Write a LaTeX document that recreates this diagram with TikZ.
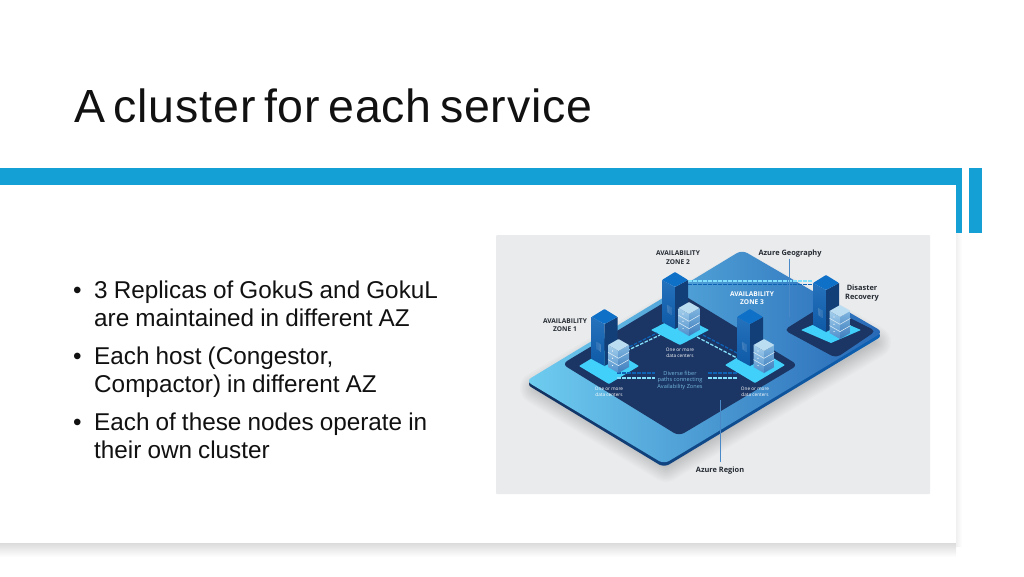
\documentclass[tikz,border=0pt]{standalone}
\usepackage{fontspec}
\setmainfont{Liberation Sans}
\newfontfamily\titlefont[WordSpace=0.6,LetterSpace=1.9]{Liberation Sans}
\newfontfamily\bodyfont[WordSpace=0.9]{Liberation Sans}
\newfontfamily\lblfont{Open Sans}
\definecolor{barblue}{HTML}{149FD5}
\definecolor{panelgrey}{HTML}{E9EBED}
\definecolor{navy}{HTML}{1B3564}
\definecolor{edgenavy}{HTML}{12305E}
\definecolor{padcyan}{HTML}{40D0FA}
\definecolor{towerL}{HTML}{0D62B5}
\definecolor{towerR}{HTML}{133F78}
\definecolor{towerT}{HTML}{0F70C8}
\definecolor{stackT}{HTML}{BBDDF2}
\definecolor{stackL}{HTML}{A4CFEC}
\definecolor{stackLb}{HTML}{4F8FCB}
\definecolor{stackR}{HTML}{7FB5E0}
\definecolor{stackRb}{HTML}{3D7CBC}
\definecolor{fibre}{HTML}{74B8DE}
\definecolor{inktext}{HTML}{262B33}
\definecolor{slidetext}{HTML}{111111}
\definecolor{slabA}{HTML}{6FCDF0}
\definecolor{slabB}{HTML}{408FD0}
\definecolor{slabC}{HTML}{2768B6}
\tikzset{
  bulletline/.style={anchor=base west,inner sep=0pt,font=\bodyfont\fontsize{24.3}{28}\selectfont,text=slidetext},
  darklabel/.style={inner sep=0pt,align=center,text=inktext,font=\lblfont\bfseries\fontsize{6.6}{8.6}\selectfont},
  whitelabel/.style={inner sep=0pt,align=center,text=white,font=\lblfont\bfseries\fontsize{6.6}{8.2}\selectfont},
  smalllabel/.style={inner sep=0pt,align=center,text=white,font=\lblfont\fontsize{4.7}{6.2}\selectfont},
  fibrelabel/.style={inner sep=0pt,align=center,text=fibre,font=\lblfont\fontsize{5.6}{6.8}\selectfont},
  leader/.style={draw=towerL!75!white,line width=0.5pt},
  fibredark/.style={draw=towerL,line width=1.3pt,dash pattern=on 3.5pt off 1.5pt},
  fibrelight/.style={draw=white!35!padcyan,line width=1.3pt,dash pattern=on 3.5pt off 1.5pt},
}
\newcommand{\mytower}[2]{%
  \begin{scope}[shift={(#1,#2)}]
    \shade[top color=towerL!90!white,bottom color=towerL!75!towerR,line join=round] (-13,8) -- (0,15) -- (0,57) -- (-13,50) -- cycle;
    \fill[towerR,line join=round] (13,8) -- (0,15) -- (0,57) -- (13,50) -- cycle;
    \fill[towerT,line join=round,rounded corners=0.8pt] (-13,8) -- (0,0) -- (13,8) -- (0,15) -- cycle;
    \foreach \v in {0,1.6,...,12.8}{\draw[white,opacity=.28,line width=.5pt,dash pattern=on .8pt off .7pt] (-8,{33+\v*.6}) -- (-3.5,{36+\v*.6});}
  \end{scope}}
\newcommand{\mystack}[2]{%
  \begin{scope}[shift={(#1,#2)}]
    \shade[top color=stackL,bottom color=stackLb] (-10.5,6) -- (0,12) -- (0,34) -- (-10.5,28) -- cycle;
    \shade[top color=stackR,bottom color=stackRb] (10.5,6) -- (0,12) -- (0,34) -- (10.5,28) -- cycle;
    \fill[stackT,rounded corners=0.5pt] (-10.5,6) -- (0,0) -- (10.5,6) -- (0,12) -- cycle;
    \foreach \d in {7.3,14.6}{\draw[white!70!stackL,line width=.5pt] (-10.5,6+\d) -- (0,12+\d) -- (10.5,6+\d);}
    \foreach \d in {0,7.3,14.6}{\fill[white] (-6,{12+\d}) circle (.6);}
  \end{scope}}
\newcommand{\mypad}[4]{\fill[padcyan,rounded corners=0.6pt] (#1,#4) -- (#2,#3) -- ({2*#2-#1},#4) -- (#2,{2*#4-#3}) -- cycle;}
\begin{document}
\begin{tikzpicture}[x=1pt,y=-1pt]
\useasboundingbox (0,0) rectangle (1024,576);
\fill[white] (0,0) rectangle (1024,576);
% slide panel shadow
\shade[top color=black!14,bottom color=white] (0,543) rectangle (956,557);
\shade[left color=black!6,right color=white] (956,233) rectangle (962,546);
\fill[barblue] (0,167.5) rectangle (962,184.7);
\fill[barblue] (956,184) rectangle (962,233);
\fill[barblue] (969,167.5) rectangle (982,233);
% title and bullets
\node[anchor=base west,inner sep=0pt,text=slidetext,font=\titlefont\fontsize{46.5}{50}\selectfont] (title) at (74,122.7) {A cluster for each service};
\foreach \n/\yy in {b1/298,b2/364,b3/430}{\node[bulletline] (\n) at (73,\yy) {•};}
\node[bulletline] (l1) at (94,298) {3 Replicas of GokuS and GokuL};
\node[bulletline] (l2) at (94,326) {are maintained in different AZ};
\node[bulletline] (l3) at (94,364) {Each host (Congestor,};
\node[bulletline] (l4) at (94,392) {Compactor) in different AZ};
\node[bulletline] (l5) at (94,430) {Each of these nodes operate in};
\node[bulletline] (l6) at (94,458) {their own cluster};
% picture panel
\fill[panelgrey,rounded corners=1pt] (496,235) rectangle (930,494);
\begin{scope}
  \clip (496,235) rectangle (930,494);
  \foreach \w in {2,5,...,32}{
    \draw[black,opacity=.017,line width=\w pt,line join=round]
      (536,388) -- (742,268) -- (875,342) -- (666,466) -- cycle;}
\end{scope}
% slab
\shade[left color=edgenavy,right color=towerL,rounded corners=6pt] (526,384) -- (742,254) -- (883,335.5) -- (664,467.5) -- cycle;
\shade[left color=slabA,middle color=slabB,right color=slabC,rounded corners=6pt]
  (526,381) -- (742,250) -- (883,332) -- (664,464) -- cycle;
% inner dark regions
\fill[navy,rounded corners=6pt] (562,364) -- (680,293) -- (798,365) -- (679,436) -- cycle;
\fill[navy,rounded corners=5pt] (784,330) -- (824,305) -- (876,331) -- (836,358) -- cycle;
% pads
\mypad{651}{680}{315}{330}
\mypad{579}{609}{348}{366}
\mypad{725}{755}{347}{365}
\mypad{801}{831}{317}{330}
% fibre links
\draw[fibrelight] (688,281) -- (813,281);
\draw[fibredark] (688,284.5) -- (813,284.5);
\draw[fibredark] (625,349) -- (657,333);
\draw[fibrelight] (622,353) -- (660,335);
\draw[fibrelight] (697,337) -- (737,358);
\draw[fibredark] (703,335) -- (737,353);
\draw[fibredark] (617,373) -- (655,373);
\draw[fibrelight] (617,378) -- (655,378);
\draw[fibredark] (708,373) -- (737,373);
\draw[fibrelight] (708,378) -- (737,378);
% towers and stacks
\mytower{675}{272}\mystack{689}{302}
\mytower{604.5}{309}\mystack{618.5}{339}
\mytower{750}{309}\mystack{764}{339}
\mytower{826}{275}\mystack{840}{305}
% labels
\node[darklabel] (z2) at (678,257.5) {AVAILABILITY\\ZONE 2};
\node[darklabel] (z1) at (565,325) {AVAILABILITY\\ZONE 1};
\node[whitelabel] (z3) at (752,298) {AVAILABILITY\\ZONE 3};
\node[darklabel,font=\lblfont\bfseries\fontsize{7.4}{9}\selectfont] (geo) at (790,254) {Azure Geography};
\node[darklabel,font=\lblfont\bfseries\fontsize{7.4}{9}\selectfont] (dr) at (862,293.5) {Disaster\\Recovery};
\node[darklabel,font=\lblfont\bfseries\fontsize{7.4}{9}\selectfont] (region) at (720,471) {Azure Region};
\node[smalllabel] (dc2) at (680,353) {One or more\\data centers};
\node[smalllabel] (dc1) at (609,391.5) {One or more\\data centers};
\node[smalllabel] (dc3) at (755,391.5) {One or more\\data centers};
\node[fibrelabel] (fib) at (680,380.5) {Diverse fiber\\paths connecting\\Availability Zones};
\coordinate (geoEnd) at (789,317);
\coordinate (regionEnd) at (720,400);
\draw[leader] ([yshift=-1pt]geo.south -| geoEnd) -- (geoEnd);
\draw[leader] ([yshift=5pt]region.north -| regionEnd) -- (regionEnd);
\end{tikzpicture}
\end{document}
